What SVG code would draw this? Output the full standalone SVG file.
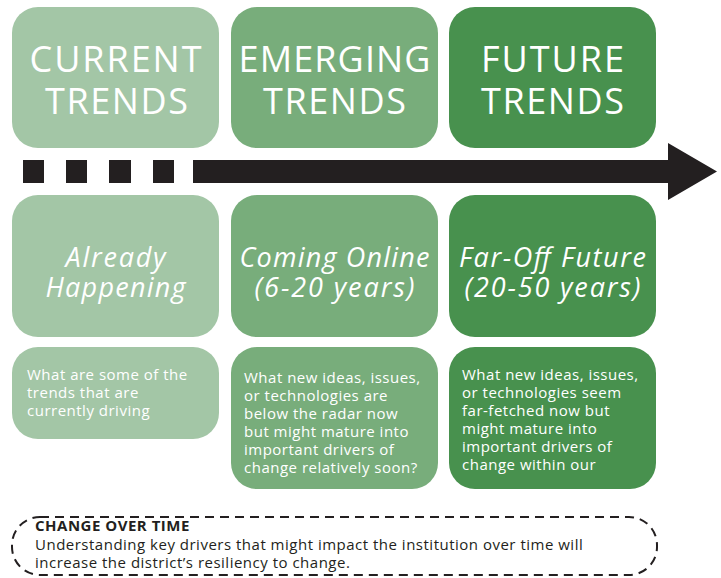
<svg xmlns="http://www.w3.org/2000/svg" width="721" height="578" viewBox="0 0 721 578">
<style>
.c1{fill:#a3c6a6}.c2{fill:#78ad7b}.c3{fill:#48914e}
.h{font-family:"Open Sans","Liberation Sans",sans-serif;font-size:36px;fill:#fff;text-anchor:middle}
.s{font-family:"Open Sans","Liberation Sans",sans-serif;font-size:27px;font-style:italic;fill:#fff;text-anchor:middle}
.b{font-family:"Open Sans","Liberation Sans",sans-serif;font-size:15px;fill:#fff;letter-spacing:0.5px}
.n{font-family:"Open Sans","Liberation Sans",sans-serif;font-size:15px;fill:#231f20;letter-spacing:0.5px}
</style>
<rect width="721" height="578" fill="#fff"/>
<g id="connectors" fill="#231f20">
<rect x="23" y="160" width="21" height="23"/>
<rect x="66" y="160" width="21" height="23"/>
<rect x="109" y="160" width="22" height="23"/>
<rect x="153" y="160" width="21" height="23"/>
<polygon points="193,160 668,160 668,143 717,171.5 668,200 668,183 193,183"/>
</g>
<g id="current-trends"><rect class="c1" x="12" y="7" width="207" height="141" rx="26"/><text class="h" x="115.5" y="72" textLength="172" lengthAdjust="spacing">CURRENT</text><text class="h" x="116.5" y="114" textLength="143" lengthAdjust="spacing">TRENDS</text></g>
<g id="emerging-trends"><rect class="c2" x="231" y="7" width="207" height="141" rx="26"/><text class="h" x="334.5" y="72" textLength="192" lengthAdjust="spacing">EMERGING</text><text class="h" x="334.5" y="114" textLength="143" lengthAdjust="spacing">TRENDS</text></g>
<g id="future-trends"><rect class="c3" x="449" y="7" width="207" height="141" rx="26"/><text class="h" x="552.5" y="72" textLength="143" lengthAdjust="spacing">FUTURE</text><text class="h" x="552.5" y="114" textLength="143" lengthAdjust="spacing">TRENDS</text></g>
<g id="already-happening"><rect class="c1" x="12" y="195" width="207" height="142" rx="26"/><text class="s" x="115.5" y="267" textLength="100" lengthAdjust="spacing">Already</text><text class="s" x="115.5" y="297" textLength="140" lengthAdjust="spacing">Happening</text></g>
<g id="coming-online"><rect class="c2" x="231" y="195" width="207" height="142" rx="26"/><text class="s" x="334.5" y="267" textLength="190" lengthAdjust="spacing">Coming Online</text><text class="s" x="334.5" y="297" textLength="160" lengthAdjust="spacing">(6-20 years)</text></g>
<g id="far-off-future"><rect class="c3" x="449" y="195" width="207" height="142" rx="26"/><text class="s" x="552.5" y="267" textLength="187" lengthAdjust="spacing">Far-Off Future</text><text class="s" x="552.5" y="297" textLength="176" lengthAdjust="spacing">(20-50 years)</text></g>
<g id="current-desc"><rect class="c1" x="12" y="347" width="207" height="92" rx="26"/>
<text class="b" x="27" y="380">What are some of the</text><text class="b" x="27" y="398">trends that are</text><text class="b" x="27" y="416">currently driving</text></g>
<g id="emerging-desc"><rect class="c2" x="231" y="347" width="207" height="142" rx="26"/>
<text class="b" x="244" y="383">What new ideas, issues,</text><text class="b" x="244" y="401">or technologies are</text><text class="b" x="244" y="419">below the radar now</text><text class="b" x="244" y="437">but might mature into</text><text class="b" x="244" y="455">important drivers of</text><text class="b" x="244" y="473">change relatively soon?</text></g>
<g id="future-desc"><rect class="c3" x="449" y="347" width="207" height="142" rx="26"/>
<text class="b" x="462" y="380">What new ideas, issues,</text><text class="b" x="462" y="398">or technologies seem</text><text class="b" x="462" y="416">far-fetched now but</text><text class="b" x="462" y="434">might mature into</text><text class="b" x="462" y="452">important drivers of</text><text class="b" x="462" y="470">change within our</text></g>
<g id="change-over-time"><rect x="12" y="517" width="645" height="58" rx="28" fill="none" stroke="#231f20" stroke-width="2" stroke-dasharray="9,6"/>
<text class="n" x="35" y="531" font-weight="bold" letter-spacing="0.3">CHANGE OVER TIME</text>
<text class="n" x="35" y="550">Understanding key drivers that might impact the institution over time will</text>
<text class="n" x="35" y="568">increase the district’s resiliency to change.</text></g>
</svg>
